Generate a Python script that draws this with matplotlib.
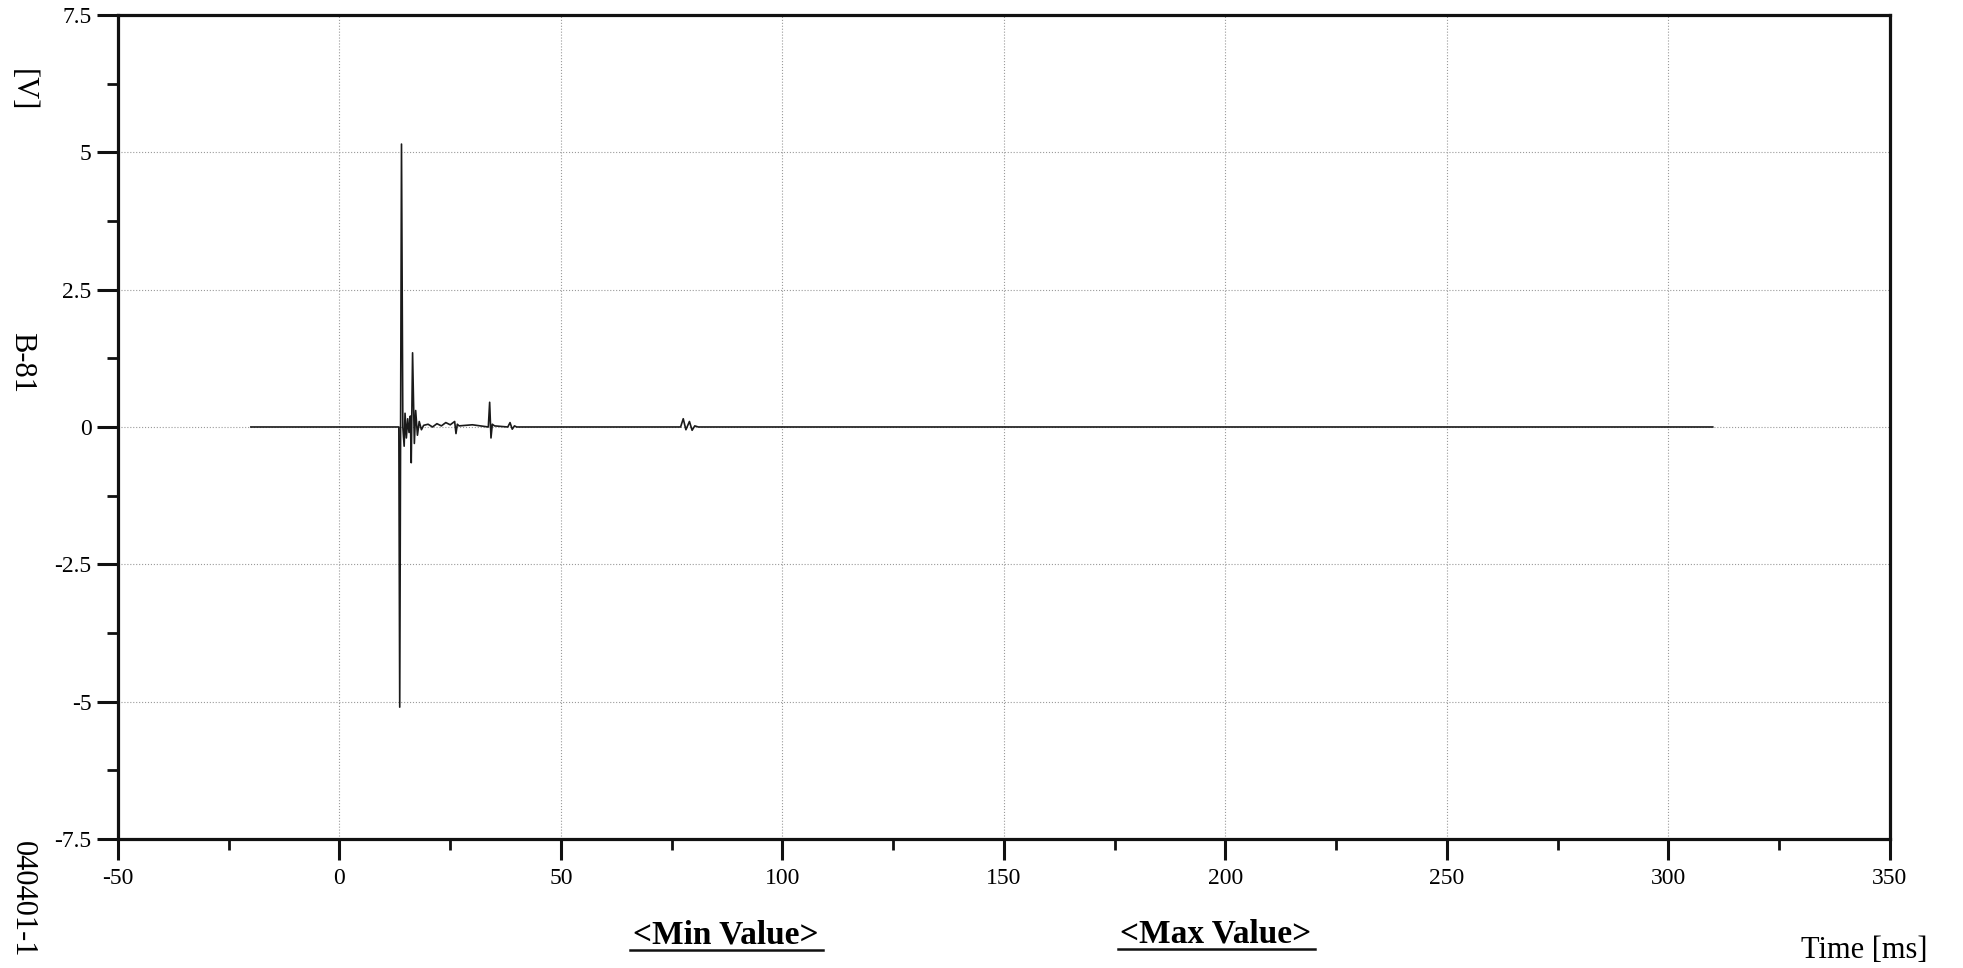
import matplotlib as mpl
mpl.use('Agg')
import matplotlib.pyplot as plt
from matplotlib.ticker import MultipleLocator

# Signal trace (time in ms, voltage in V)
time_ms = [-20, 13.4, 13.6, 14.0, 14.3, 14.6, 14.8, 15.1, 15.4, 15.7, 16.0,
           16.2, 16.5, 16.9, 17.2, 17.6, 18.0, 18.5, 19.0, 20, 21, 22, 23,
           24, 25, 26, 26.3, 26.6, 27, 30, 33.6, 33.9, 34.2, 34.5, 35, 38,
           38.5, 39, 39.5, 40, 45, 77, 77.6, 78.2, 79, 79.6, 80.2, 81, 100,
           200, 310]
volts = [0, 0, -5.1, 5.15, 0.0, -0.35, 0.25, -0.2, 0.15, -0.1, 0.2,
         -0.65, 1.35, -0.3, 0.3, -0.15, 0.1, -0.05, 0.03, 0.05, 0.0, 0.06, 0.02,
         0.08, 0.04, 0.1, -0.12, 0.05, 0.02, 0.04, 0.0, 0.45, -0.2, 0.05, 0.02, 0.0,
         0.08, -0.04, 0.02, 0, 0, 0, 0.15, -0.05, 0.1, -0.06, 0.02, 0, 0,
         0, 0]

x_ticks = [-50, 0, 50, 100, 150, 200, 250, 300, 350]
y_ticks = [-7.5, -5, -2.5, 0, 2.5, 5, 7.5]
y_ticklabels = ['-7.5', '-5', '-2.5', '0', '2.5', '5', '7.5']

plt.rcParams['font.family'] = ['Liberation Serif', 'DejaVu Serif']
plt.rcParams['axes.unicode_minus'] = False  # plain hyphen like the original

fig = plt.figure(figsize=(19.63, 9.68), dpi=100)
ax = fig.add_axes([0.0601, 0.1333, 0.9027, 0.8512])

ax.plot(time_ms, volts, color='#1a1a1a', lw=1.2)

ax.set_xlim(-50, 350)
ax.set_ylim(-7.5, 7.5)
ax.set_xticks(x_ticks)
ax.set_yticks(y_ticks)
ax.set_yticklabels(y_ticklabels)
ax.xaxis.set_minor_locator(MultipleLocator(25))
ax.yaxis.set_minor_locator(MultipleLocator(1.25))

ax.grid(True, which='major', color='#9a9a9a', ls=':', lw=0.8)
for s in ax.spines.values():
    s.set_linewidth(2.3)
    s.set_color('#111111')
ax.tick_params(which='major', direction='out', length=15, width=2.2,
               labelsize=17, pad=6, color='#111111')
ax.tick_params(axis='y', which='major', pad=4)
ax.tick_params(which='minor', direction='out', length=8, width=2.0,
               color='#111111')

# side labels
fig.text(22 / 1963, 1 - 90 / 968, '[V]', rotation=270, fontsize=22,
         ha='center', va='center')
fig.text(22 / 1963, 1 - 363 / 968, 'B-81', rotation=270, fontsize=22,
         ha='center', va='center')
fig.text(22 / 1963, 1 - 899 / 968, '040401-1', rotation=270, fontsize=22,
         ha='center', va='center')

# bottom labels
fig.text(726 / 1963, 1 - 935 / 968, '<Min Value>', fontsize=24,
         fontweight='bold', ha='center', va='center')
fig.text(1216 / 1963, 1 - 934 / 968, '<Max Value>', fontsize=24,
         fontweight='bold', ha='center', va='center')
fig.add_artist(plt.Line2D([630 / 1963, 823 / 1963], [1 - 950 / 968] * 2,
                          color='#111111', lw=1.8))
fig.add_artist(plt.Line2D([1118 / 1963, 1315 / 1963], [1 - 949 / 968] * 2,
                          color='#111111', lw=1.8))
fig.text(1864 / 1963, 1 - 950 / 968, 'Time [ms]', fontsize=22,
         ha='center', va='center')

plt.savefig('out.png', dpi=100)
